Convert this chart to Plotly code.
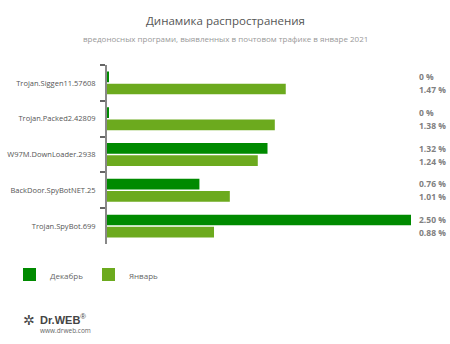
import plotly.graph_objects as go

categories = ["Trojan.Siggen11.57608", "Trojan.Packed2.42809", "W97M.DownLoader.2938",
              "BackDoor.SpyBotNET.25", "Trojan.SpyBot.699"]
series_names = ["Декабрь", "Январь"]
december = [0.0, 0.0, 1.32, 0.76, 2.50]
january = [1.47, 1.38, 1.24, 1.01, 0.88]
colors = ["#008a00", "#6caa1e"]

L, R, T, B = 107, 411, 65, 244
W, H = R - L, B - T


def px(x):
    return (x - L) / W


def py(y):
    return (B - y) / H


fig = go.Figure()
for name, vals, col in zip(series_names, [december, january], colors):
    fig.add_trace(go.Bar(
        y=categories, x=[v if v > 0 else 0.012 for v in vals], name=name, orientation="h",
        marker=dict(color=col, line=dict(color=col, width=0)),
        hoverinfo="skip",
    ))

annotations = []
for i, cat in enumerate(categories):
    for j, vals in enumerate([december, january]):
        v = vals[i]
        txt = "0 %" if v == 0 else f"{v:.2f} %"
        yc = T + H * (i + 0.5) / len(categories) + (-6.5 if j == 0 else 6.5)
        annotations.append(dict(
            x=px(417), y=py(yc), xref="paper", yref="paper", text=f"<b>{txt}</b>",
            showarrow=False, xanchor="left", yanchor="middle",
            font=dict(family="Open Sans", size=8.5, color="#808080"),
        ))

# title / subtitle
annotations.append(dict(x=px(225), y=py(20), xref="paper", yref="paper", xanchor="center",
                        yanchor="middle", showarrow=False, text="Динамика распространения",
                        font=dict(family="Open Sans", size=11.5, color="#555555")))
annotations.append(dict(x=px(225), y=py(38), xref="paper", yref="paper", xanchor="center",
                        yanchor="middle", showarrow=False,
                        text="вредоносных програми, выявленных в почтовом трафике в январе 2021",
                        font=dict(family="Open Sans", size=8, color="#999999")))

shapes = []
# legend (manual)
leg_x = [23, 102]
for k, (name, col) in enumerate(zip(series_names, colors)):
    x0 = leg_x[k]
    shapes.append(dict(type="rect", xref="paper", yref="paper",
                       x0=px(x0), x1=px(x0 + 13), y0=py(281), y1=py(268),
                       fillcolor=col, line=dict(width=0)))
    annotations.append(dict(x=px(x0 + 25), y=py(275), xref="paper", yref="paper",
                            xanchor="left", yanchor="middle", showarrow=False, text=name,
                            font=dict(family="Open Sans", size=8, color="#666666")))

# logo
annotations.append(dict(x=px(21), y=py(320), xref="paper", yref="paper",
                        xanchor="left", yanchor="middle", showarrow=False,
                        text="<b>✲</b>", font=dict(family="DejaVu Sans", size=14, color="#444444")))
annotations.append(dict(x=px(38), y=py(319), xref="paper", yref="paper",
                        xanchor="left", yanchor="middle", showarrow=False,
                        text="<b>Dr.WEB</b><sup>®</sup>", font=dict(family="Liberation Sans", size=11, color="#444444")))
annotations.append(dict(x=px(38), y=py(330), xref="paper", yref="paper",
                        xanchor="left", yanchor="middle", showarrow=False,
                        text="www.drweb.com", font=dict(family="Open Sans", size=6.5, color="#666666")))

fig.update_layout(
    width=450, height=344,
    margin=dict(l=L, r=450 - R, t=T, b=344 - B, pad=0, autoexpand=False),
    paper_bgcolor="white", plot_bgcolor="white",
    barmode="group", bargap=0.32, bargroupgap=0.12,
    showlegend=False,
    annotations=annotations, shapes=shapes,
    xaxis=dict(range=[0, 2.5], visible=False, fixedrange=True, automargin=False),
    yaxis=dict(autorange="reversed", categoryorder="array", categoryarray=categories,
               automargin=False,
               showline=True, linecolor="#888888", linewidth=2,
               ticks="outside", tickson="boundaries", ticklen=5, tickcolor="#666666", tickwidth=1.5,
               showgrid=False, ticklabelstandoff=8,
               tickfont=dict(family="Open Sans", size=7.5, color="#555555")),
)

fig.write_html("out.html")
